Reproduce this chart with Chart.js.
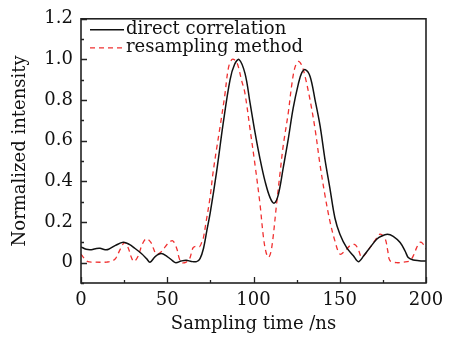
<!DOCTYPE html>
<html>
<head>
<meta charset="utf-8">
<script src="https://cdn.jsdelivr.net/npm/chart.js@4.4.1/dist/chart.umd.min.js"></script>
<style>
  html, body { margin: 0; padding: 0; background: #fff; }
  #wrap { width: 461px; height: 339px; }
</style>
</head>
<body>
<div id="wrap"><canvas id="chart" width="461" height="339"></canvas></div>
<script>
// sampling time (ns) and normalized intensity
const directTime = [0, 3, 6, 9, 11, 14, 16, 20, 24.5, 28, 31, 35, 38, 40, 43, 46.5, 50, 53, 55, 58, 61, 64, 67, 69, 71, 73, 75, 78.6, 82.5, 86.4, 89, 91.6, 95.1, 98, 100.9, 103.8, 106.7, 109.6, 112, 114.4, 117.3, 120, 123, 126, 128, 130, 132.8, 135.7, 138.6, 141.4, 144.3, 147.2, 150.1, 154, 157.9, 160.8, 164, 167.5, 171.4, 174, 177.6, 181, 185, 188, 189.7, 192.6, 196, 200];
const directValues = [0.078, 0.066, 0.064, 0.07, 0.071, 0.064, 0.066, 0.085, 0.1, 0.09, 0.072, 0.045, 0.02, 0.002, 0.03, 0.045, 0.03, 0.01, 0.0, 0.008, 0.012, 0.006, 0.005, 0.02, 0.07, 0.16, 0.25, 0.447, 0.69, 0.9, 0.975, 1.0, 0.93, 0.786, 0.64, 0.51, 0.4, 0.32, 0.293, 0.335, 0.47, 0.6, 0.76, 0.88, 0.935, 0.95, 0.916, 0.8, 0.673, 0.51, 0.366, 0.22, 0.14, 0.074, 0.034, 0.005, 0.035, 0.074, 0.115, 0.13, 0.14, 0.13, 0.099, 0.055, 0.026, 0.013, 0.01, 0.008];

const resampleTime = [0, 2, 4, 8, 12, 15, 18, 20, 23, 25.3, 27.5, 29, 30.7, 33, 35.5, 37.9, 40.5, 42, 43.7, 46, 49, 51, 53.3, 55.5, 57, 58.5, 61, 63, 65, 67, 68.8, 70, 70.9, 72.5, 74.8, 76.5, 78.6, 81, 83.3, 85.5, 87.5, 89.5, 91, 93, 95, 98, 100.9, 103.8, 105.7, 107.3, 108.8, 110.5, 113.4, 115.5, 117.3, 120.2, 122.1, 124, 126, 128, 129.9, 132.8, 135.7, 138.6, 141.4, 144.3, 147.2, 150.1, 153, 155.9, 158.5, 160.5, 162.7, 165, 167.5, 170.5, 173.3, 176.2, 177.8, 179.1, 183, 187, 190.7, 193, 194.6, 196.5, 198, 200];
const resampleValues = [0.042, 0.02, 0.005, 0.003, 0.002, 0.003, 0.008, 0.02, 0.07, 0.099, 0.07, 0.03, 0.006, 0.03, 0.09, 0.118, 0.1, 0.07, 0.042, 0.05, 0.08, 0.1, 0.107, 0.07, 0.02, 0.0, 0.003, 0.02, 0.074, 0.082, 0.08, 0.1, 0.12, 0.2, 0.32, 0.44, 0.56, 0.69, 0.82, 0.96, 1.0, 0.995, 0.97, 0.9, 0.835, 0.657, 0.48, 0.286, 0.13, 0.05, 0.026, 0.07, 0.29, 0.45, 0.58, 0.74, 0.87, 0.96, 0.99, 0.97, 0.916, 0.8, 0.657, 0.48, 0.333, 0.204, 0.107, 0.042, 0.058, 0.083, 0.09, 0.07, 0.026, 0.045, 0.074, 0.11, 0.14, 0.12, 0.06, 0.01, 0.0, 0.003, 0.01, 0.04, 0.074, 0.1, 0.095, 0.066];

const seriesNames = ['direct correlation', 'resampling method'];
const xTicks = [0, 50, 100, 150, 200];
const xMinorTicks = [25, 75, 125, 175];
const yTicks = [0, 0.2, 0.4, 0.6, 0.8, 1.0, 1.2];
const yTickLabels = ['0', '0.2', '0.4', '0.6', '0.8', '1.0', '1.2'];
const yMinorTicks = [-0.1, 0.1, 0.3, 0.5, 0.7, 0.9, 1.1];

const FONT = 'DejaVu Serif';

function toPoints(xs, ys) {
    return xs.map((x, i) => ({ x: x, y: ys[i] }));
}

// frame, inward ticks and the legend drawn inside the plot
const framePlugin = {
    id: 'frame',
    afterDraw(chart) {
        const ctx = chart.ctx;
        const area = chart.chartArea;
        const xs = chart.scales.x;
        const ys = chart.scales.y;
        ctx.save();
        ctx.strokeStyle = '#222';
        ctx.lineWidth = 1.3;
        ctx.beginPath();
        xTicks.forEach(v => {
            const px = Math.round(xs.getPixelForValue(v)) + 0.5;
            ctx.moveTo(px, area.bottom); ctx.lineTo(px, area.bottom - 6);
        });
        xMinorTicks.forEach(v => {
            const px = Math.round(xs.getPixelForValue(v)) + 0.5;
            ctx.moveTo(px, area.bottom); ctx.lineTo(px, area.bottom - 3);
        });
        yTicks.forEach(v => {
            const py = Math.round(ys.getPixelForValue(v)) + 0.5;
            ctx.moveTo(area.left, py); ctx.lineTo(area.left + 6, py);
        });
        yMinorTicks.forEach(v => {
            const py = Math.round(ys.getPixelForValue(v)) + 0.5;
            ctx.moveTo(area.left, py); ctx.lineTo(area.left + 3, py);
        });
        ctx.stroke();
        ctx.lineWidth = 1.6;
        ctx.strokeRect(area.left, area.top, area.right - area.left, area.bottom - area.top);

        // legend
        ctx.font = '18px "' + FONT + '"';
        ctx.textBaseline = 'middle';
        ctx.fillStyle = '#111';
        chart.data.datasets.forEach((ds, i) => {
            const y = area.top + 11 + i * 18;
            ctx.strokeStyle = ds.borderColor;
            ctx.lineWidth = ds.borderWidth;
            ctx.setLineDash(ds.borderDash || []);
            ctx.beginPath();
            ctx.moveTo(area.left + 9, y);
            ctx.lineTo(area.left + 43, y);
            ctx.stroke();
            ctx.setLineDash([]);
            ctx.fillText(ds.label, area.left + 45, y);
        });
        ctx.restore();
    }
};

new Chart(document.getElementById('chart'), {
    type: 'line',
    data: {
        datasets: [{
            label: seriesNames[0],
            data: toPoints(directTime, directValues),
            borderColor: '#111',
            borderWidth: 1.5,
            pointRadius: 0,
            tension: 0.35,
            fill: false
        }, {
            label: seriesNames[1],
            data: toPoints(resampleTime, resampleValues),
            borderColor: '#f03030',
            borderWidth: 1.3,
            borderDash: [5, 4],
            pointRadius: 0,
            tension: 0.35,
            fill: false
        }]
    },
    options: {
        responsive: false,
        animation: false,
        layout: { padding: { left: 0, top: 14, right: 35, bottom: 0 } },
        plugins: {
            legend: { display: false },
            tooltip: { enabled: false }
        },
        scales: {
            x: {
                type: 'linear',
                min: 0,
                max: 200,
                grid: { display: false, drawTicks: false },
                border: { display: false },
                afterBuildTicks: s => { s.ticks = xTicks.map(v => ({ value: v })); },
                afterFit: s => { s.height = 56; },
                ticks: {
                    padding: 7,
                    color: '#111',
                    font: { family: FONT, size: 18 },
                    maxRotation: 0
                },
                title: {
                    display: true,
                    text: 'Sampling time /ns',
                    color: '#111',
                    font: { family: FONT, size: 18 },
                    padding: { top: 0, bottom: 4 }
                }
            },
            y: {
                min: -0.1,
                max: 1.2,
                grid: { display: false, drawTicks: false },
                border: { display: false },
                afterBuildTicks: s => { s.ticks = yTicks.map(v => ({ value: v })); },
                afterFit: s => { s.width = 81; },
                ticks: {
                    padding: 8,
                    color: '#111',
                    font: { family: FONT, size: 18 },
                    callback: (v, i) => yTickLabels[i]
                },
                title: {
                    display: true,
                    text: 'Normalized intensity',
                    color: '#111',
                    font: { family: FONT, size: 18 },
                    padding: { top: 10, bottom: 0 }
                }
            }
        }
    },
    plugins: [framePlugin]
});
</script>
</body>
</html>
